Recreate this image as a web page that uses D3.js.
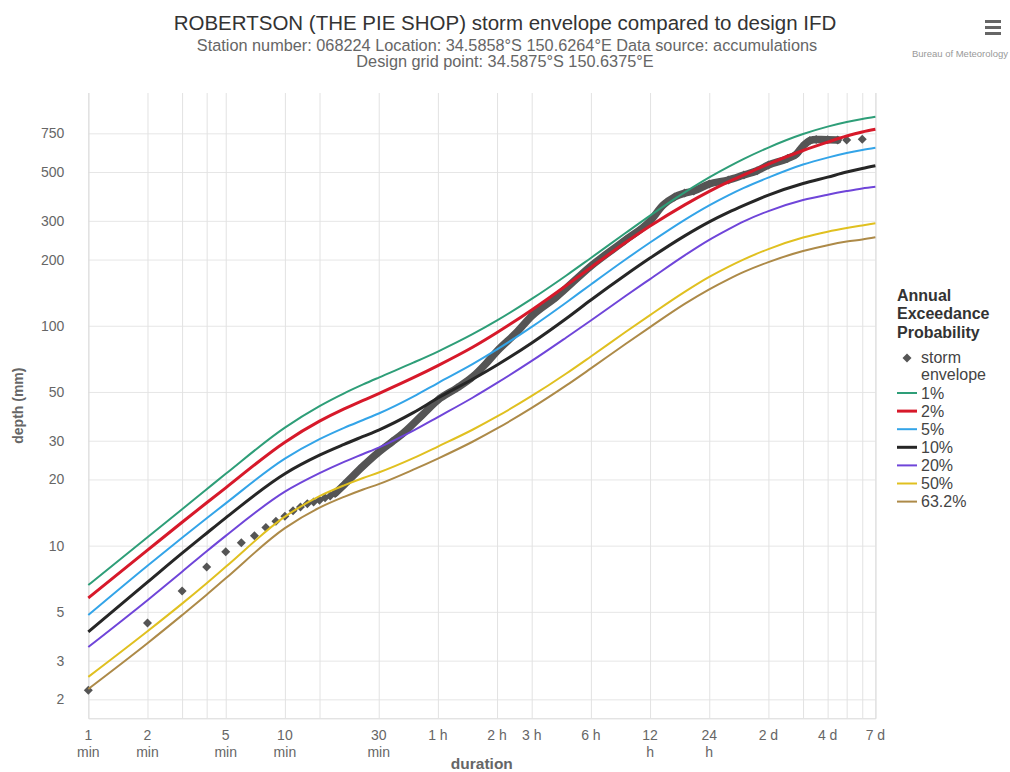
<!DOCTYPE html>
<html>
<head>
<meta charset="utf-8">
<script src="https://cdn.jsdelivr.net/npm/d3@7"></script>
<style>
  html, body { margin: 0; padding: 0; background: #fff; }
  svg { display: block; font-family: "Liberation Sans", Arial, sans-serif; }
</style>
</head>
<body>
<svg id="chart" width="1010" height="772"></svg>
<script>
// Design IFD durations (minutes)
const durations = [1, 2, 3, 4, 5, 10, 15, 20, 25, 30, 45, 60, 90, 120, 180, 270, 360, 540, 720, 1080, 1440, 1800, 2160, 2880, 4320, 5760, 7200, 8640, 10080];

// Design rainfall depths (mm) for each Annual Exceedance Probability
const aep1   = [6.62, 10.93, 14.65, 18.05, 21.21, 34.40, 43.09, 49.27, 54.08, 58.13, 67.95, 76.32, 91.49, 105.7, 132.4, 169.3, 203.4, 264.0, 317.0, 404.2, 473.0, 528.0, 574.1, 646.2, 744.3, 804.2, 843.9, 871.8, 892.1];
const aep2   = [5.78, 9.54, 12.78, 15.67, 18.32, 29.56, 36.82, 41.89, 45.74, 49.17, 58.07, 65.91, 79.84, 93.20, 118.0, 152.5, 184.1, 239.0, 284.0, 354.6, 408.5, 451.2, 485.6, 543.7, 626.3, 683.8, 728.8, 760.8, 782.6];
const aep5   = [4.84, 8.11, 10.87, 13.32, 15.57, 24.87, 30.50, 34.34, 37.29, 39.88, 47.60, 54.88, 66.83, 78.02, 98.76, 127.6, 154.1, 200.1, 239.0, 303.1, 352.8, 391.8, 423.7, 472.0, 540.9, 581.4, 610.1, 630.2, 644.9];
const aep10  = [4.05, 6.82, 9.24, 11.39, 13.38, 21.25, 25.79, 28.88, 31.37, 33.55, 40.25, 46.90, 57.11, 66.33, 83.52, 107.9, 131.0, 170.1, 203.1, 256.3, 296.8, 327.8, 352.8, 392.9, 443.2, 473.9, 499.9, 519.2, 534.0];
const aep20  = [3.46, 5.65, 7.61, 9.43, 11.08, 17.60, 21.36, 24.05, 26.12, 27.93, 33.34, 38.43, 47.05, 54.93, 69.17, 88.44, 105.7, 136.5, 163.0, 209.0, 245.8, 274.4, 298.4, 332.3, 372.9, 394.5, 409.7, 421.1, 428.7];
const aep50  = [2.53, 4.08, 5.45, 6.75, 8.01, 13.55, 16.79, 18.80, 20.31, 21.50, 24.99, 28.22, 33.65, 38.68, 47.94, 60.66, 72.49, 93.61, 111.8, 142.6, 166.8, 185.3, 200.4, 223.2, 251.8, 267.8, 278.2, 285.8, 292.4];
const aep632 = [2.23, 3.60, 4.83, 5.98, 7.10, 12.01, 14.88, 16.67, 18.01, 19.05, 22.16, 24.89, 29.68, 34.11, 42.28, 53.52, 63.95, 82.58, 98.62, 125.7, 146.4, 162.6, 175.8, 194.8, 218.6, 232.5, 241.4, 246.8, 252.6];

const aepLabels = ["1%", "2%", "5%", "10%", "20%", "50%", "63.2%"];
const aepColors = ["#2e9e78", "#d7192a", "#33a4e8", "#262626", "#6f45d9", "#e0c020", "#ad8a48"];
const aepWidths = [2, 3, 2, 3, 2, 2, 2];

// Storm envelope: maximum accumulated depth (mm) for each duration (minutes)
const stormShortDur = [1, 2, 3, 4, 5, 6, 7, 8, 9, 10, 11, 12, 13, 14, 15, 16, 17, 18];
const stormShortVal = [2.20, 4.45, 6.22, 7.99, 9.38, 10.3, 11.1, 12.1, 12.9, 13.6, 14.4, 15.0, 15.5, 15.8, 16.1, 16.5, 16.8, 17.3];
const stormDenseDur = [18, 20, 25, 30, 35, 40, 50, 60, 75, 90, 105, 120, 150, 180, 240, 360, 540, 720, 840, 960, 1080, 1200, 1440, 1800, 2160, 2520, 2880, 3600, 4000, 4320, 4680, 5040, 5760, 6480];
const stormDenseVal = [17.3, 18.9, 23.0, 26.6, 29.6, 32.5, 39.3, 45.9, 52.1, 58.5, 67.0, 76.7, 92.7, 110.7, 135.1, 186.8, 245.3, 299.3, 353.9, 385.0, 401.0, 410.0, 441.0, 460.0, 484.5, 507.0, 538.0, 575.8, 603.6, 656.5, 695.3, 702.5, 702.0, 699.0];
const stormLongDur = [7200, 8640];
const stormLongVal = [699.0, 704.0];

// Axis ticks
const yTicks = [2, 3, 5, 10, 20, 30, 50, 100, 200, 300, 500, 750];
const xGrid = [1, 2, 3, 4, 5, 10, 15, 30, 60, 120, 180, 360, 720, 1440, 2880, 4320, 5760, 7200, 8640, 10080];
const xLabelDur = [1, 2, 5, 10, 30, 60, 120, 180, 360, 720, 1440, 2880, 5760, 10080];
const xLabelText = ["1\nmin", "2\nmin", "5\nmin", "10\nmin", "30\nmin", "1 h", "2 h", "3 h", "6 h", "12\nh", "24\nh", "2 d", "4 d", "7 d"];

const svg = d3.select("#chart");
const plot = { left: 88.3, right: 875.4, top: 93, bottom: 718.3 };

const x = d3.scaleLog().domain([1, 10080]).range([plot.left, plot.right]);
const y = d3.scaleLog().domain([1.64, 1144]).range([plot.bottom, plot.top]);

// Titles
svg.append("text").attr("x", 505).attr("y", 30).attr("text-anchor", "middle")
  .attr("fill", "#333").style("font-size", "20.5px")
  .text("ROBERTSON (THE PIE SHOP) storm envelope compared to design IFD");
svg.append("text").attr("x", 507).attr("y", 51).attr("text-anchor", "middle")
  .attr("fill", "#666").style("font-size", "16.3px")
  .text("Station number: 068224 Location: 34.5858°S 150.6264°E Data source: accumulations");
svg.append("text").attr("x", 505).attr("y", 67).attr("text-anchor", "middle")
  .attr("fill", "#666").style("font-size", "16.3px")
  .text("Design grid point: 34.5875°S 150.6375°E");

// Menu icon and credit
const menu = svg.append("g").attr("transform", "translate(985,20)");
[0, 6, 12].forEach(d => menu.append("rect").attr("x", 0).attr("y", d).attr("width", 16).attr("height", 3).attr("fill", "#666"));
svg.append("text").attr("x", 1008).attr("y", 57).attr("text-anchor", "end")
  .attr("fill", "#999").style("font-size", "9.5px").text("Bureau of Meteorology");

// Horizontal gridlines and y labels
const gy = svg.append("g").attr("transform", `translate(${plot.left},0)`)
  .call(d3.axisLeft(y).tickValues(yTicks).tickSize(-(plot.right - plot.left)).tickPadding(24).tickFormat(d3.format("d")));
gy.select(".domain").remove();
gy.selectAll(".tick line").attr("stroke", "#e6e6e6");
gy.selectAll(".tick text").attr("fill", "#666").style("font-size", "14px")
  .style("font-family", "'Liberation Sans', Arial, sans-serif");

// Vertical gridlines
const gx = svg.append("g").attr("transform", `translate(0,${plot.bottom})`)
  .call(d3.axisBottom(x).tickValues(xGrid).tickSize(-(plot.bottom - plot.top)).tickFormat(""));
gx.select(".domain").attr("stroke", "#d8d8d8");
gx.selectAll(".tick line").attr("stroke", "#e2e2e2");

// x labels (may wrap onto two lines)
const xl = svg.append("g").attr("fill", "#666").style("font-size", "14px").attr("text-anchor", "middle");
xLabelDur.forEach((d, i) => {
  const t = xl.append("text").attr("x", x(d)).attr("y", 740);
  xLabelText[i].split("\n").forEach((line, j) => {
    t.append("tspan").attr("x", x(d)).attr("dy", j === 0 ? 0 : 17).text(line);
  });
});

// Axis titles
svg.append("text").attr("x", (plot.left + plot.right) / 2).attr("y", 769).attr("text-anchor", "middle")
  .attr("fill", "#666").style("font-size", "15.5px").style("font-weight", "bold").text("duration");
svg.append("text").attr("transform", `translate(23,${(plot.top + plot.bottom) / 2}) rotate(-90)`)
  .attr("text-anchor", "middle").attr("fill", "#666").style("font-size", "14px").style("font-weight", "bold")
  .text("depth (mm)");

// Storm envelope
const diamond = "M0,-4.5L4.5,0L0,4.5L-4.5,0Z";
const stormColor = "#555";
const denseLine = d3.line().x(d => x(d[0])).y(d => y(d[1])).curve(d3.curveMonotoneX);
const densePts = d3.zip(stormDenseDur, stormDenseVal);
svg.append("path").attr("d", denseLine(densePts)).attr("fill", "none")
  .attr("stroke", stormColor).attr("stroke-width", 7.5)
  .attr("stroke-linejoin", "round").attr("stroke-linecap", "round");
const allStorm = d3.zip(stormShortDur, stormShortVal).concat(densePts, d3.zip(stormLongDur, stormLongVal));
svg.append("g").selectAll("path").data(allStorm).join("path")
  .attr("d", diamond).attr("transform", d => `translate(${x(d[0])},${y(d[1])})`).attr("fill", stormColor);

// AEP curves
const series = [aep1, aep2, aep5, aep10, aep20, aep50, aep632];
const curve = d3.line().x(d => x(d[0])).y(d => y(d[1])).curve(d3.curveMonotoneX);
series.slice().reverse().forEach((vals, ri) => {
  const i = series.length - 1 - ri;
  svg.append("path").attr("d", curve(d3.zip(durations, vals))).attr("fill", "none")
    .attr("stroke", aepColors[i]).attr("stroke-width", aepWidths[i]).attr("stroke-linejoin", "round");
});

// Legend
const lg = svg.append("g").attr("transform", "translate(897,0)");
["Annual", "Exceedance", "Probability"].forEach((t, i) => {
  lg.append("text").attr("x", 0).attr("y", 301 + i * 18.3).attr("fill", "#333")
    .style("font-size", "16px").style("font-weight", "bold").text(t);
});
lg.append("path").attr("d", diamond).attr("transform", "translate(10,358)").attr("fill", stormColor);
lg.append("text").attr("x", 24).attr("y", 363).attr("fill", "#444").style("font-size", "16px")
  .selectAll("tspan").data(["storm", "envelope"]).join("tspan")
  .attr("x", 24).attr("dy", (d, i) => i === 0 ? 0 : 17).text(d => d);
aepLabels.forEach((lab, i) => {
  const cy = 393 + i * 18.1;
  lg.append("line").attr("x1", 0).attr("x2", 20).attr("y1", cy).attr("y2", cy)
    .attr("stroke", aepColors[i]).attr("stroke-width", aepWidths[i]);
  lg.append("text").attr("x", 24).attr("y", cy + 5.5).attr("fill", "#444").style("font-size", "16px").text(lab);
});
</script>
</body>
</html>
